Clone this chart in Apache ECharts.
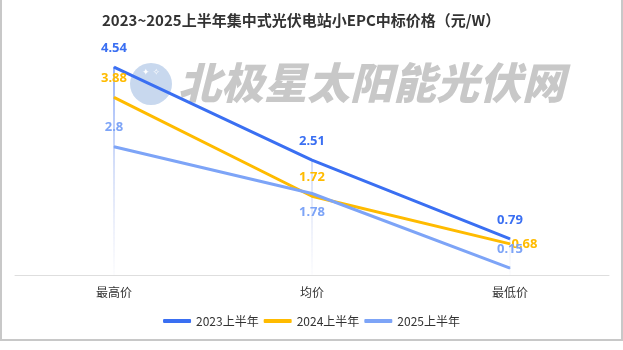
<!DOCTYPE html>
<html>
<head>
<meta charset="utf-8">
<script src="https://cdn.jsdelivr.net/npm/echarts@6/dist/echarts.min.js"></script>
<style>
  html, body { margin: 0; padding: 0; background: #fff; }
  #chart { width: 623px; height: 350px; }
</style>
</head>
<body>
<div id="chart"></div>
<script>
var categories = ['最高价', '均价', '最低价'];
var seriesNames = ['2023上半年', '2024上半年', '2025上半年'];
var values2023 = [4.54, 2.51, 0.79];
var values2024 = [3.88, 1.72, 0.68];
var values2025 = [2.8, 1.78, 0.15];
var colors = ['#3a6ff2', '#ffbb00', '#7da4f7'];

var chartDom = document.getElementById('chart');
var myChart = echarts.init(chartDom);

var labelFont = { fontSize: 13, fontWeight: 'bold', fontFamily: 'Noto Sans' };

function lineSeries(name, data, color, positions) {
  return {
    name: name,
    type: 'line',
    data: data.map(function (v, i) {
      var lbl = { position: positions[i] };
      if (positions[i] === 'right') lbl.distance = 1;
      return { value: v, label: lbl };
    }),
    symbol: 'circle',
    symbolSize: 1,
    lineStyle: { width: 3, color: color },
    itemStyle: { color: color },
    label: Object.assign({ show: true, color: color, distance: 12 }, labelFont),
    z: 3
  };
}

var option = {
  animation: false,
  title: {
    text: '2023~2025上半年集中式光伏电站小EPC中标价格（元/W）',
    left: 97,
    top: 8,
    textStyle: { fontSize: 15, fontWeight: 'bold', color: '#333', fontFamily: 'Noto Sans CJK SC' }
  },
  graphic: [
    {
      type: 'rect',
      shape: { x: 1, y: -4, width: 621, height: 344 },
      style: { fill: 'none', stroke: '#c8c8c8', lineWidth: 2 },
      silent: true
    },
    {
      type: 'circle',
      shape: { cx: 151, cy: 84, r: 21 },
      style: { fill: '#c8d8ee' },
      silent: true,
      z: -1
    },
    {
      type: 'text',
      left: 142,
      top: 68,
      silent: true,
      z: -1,
      style: { text: '✦ ✧', fill: '#ffffff', font: '9px "DejaVu Sans"' }
    },
    {
      type: 'text',
      left: 178,
      top: 61,
      silent: true,
      z: -1,
      style: {
        text: '北极星太阳能光伏网',
        fill: '#c8c8c8',
        font: 'italic 900 43px "Noto Sans CJK SC"'
      }
    }
  ],
  legend: {
    bottom: 18,
    left: 'center',
    itemWidth: 28,
    itemHeight: 4,
    itemGap: 5,
    icon: 'roundRect',
    data: seriesNames,
    textStyle: { fontSize: 12, color: '#333', fontFamily: 'Noto Sans CJK SC' }
  },
  grid: { left: 15, right: 14, top: 46, bottom: 75 },
  xAxis: {
    type: 'category',
    data: categories,
    boundaryGap: true,
    axisLine: { lineStyle: { color: '#dedede' } },
    axisTick: { show: false },
    axisLabel: { color: '#333', fontSize: 12, margin: 11, fontFamily: 'Noto Sans CJK SC' }
  },
  yAxis: {
    type: 'value',
    min: 0,
    max: 5,
    show: false,
    splitLine: { show: false }
  },
  series: [
    {
      name: 'drop',
      type: 'bar',
      data: values2023,
      barWidth: 1.5,
      silent: true,
      z: 1,
      itemStyle: {
        color: new echarts.graphic.LinearGradient(0, 65, 0, 275, [
          { offset: 0, color: 'rgba(110,150,250,1)' },
          { offset: 0.5, color: 'rgba(150,175,240,0.5)' },
          { offset: 1, color: 'rgba(180,190,230,0.05)' }
        ], true)
      }
    },
    lineSeries(seriesNames[0], values2023, colors[0], ['top', 'top', 'top']),
    lineSeries(seriesNames[1], values2024, colors[1], ['top', 'top', 'right']),
    lineSeries(seriesNames[2], values2025, colors[2], ['top', 'bottom', 'top'])
  ]
};

myChart.setOption(option);
</script>
</body>
</html>
